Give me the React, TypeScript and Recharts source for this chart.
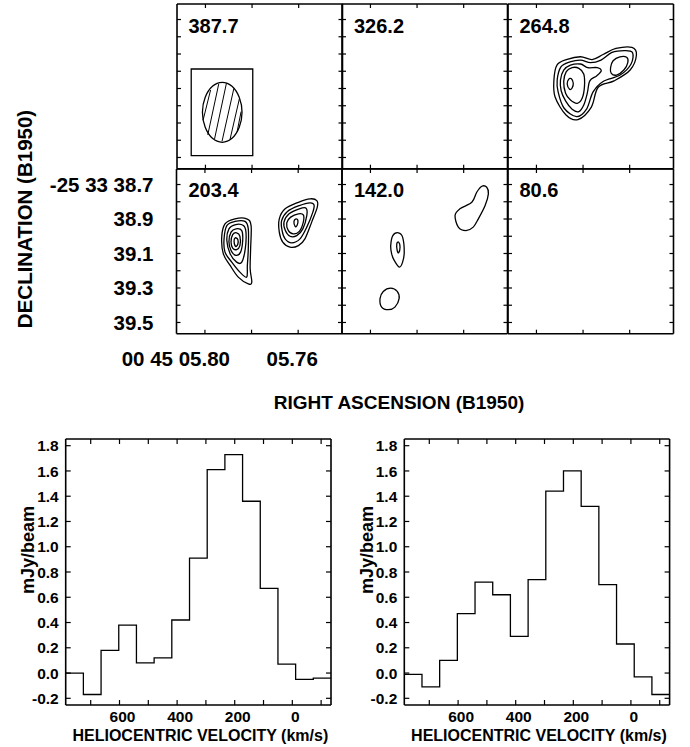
import { LineChart, Line, XAxis, YAxis, ReferenceArea, ReferenceLine } from "recharts";

type Pt = [number, number]; // [RA seconds, Dec arcsec]

// ---- channel maps ----
const CHANNELS = [387.7, 326.2, 264.8, 203.4, 142.0, 80.6];
const RA_TICKS = [5.8, 5.78, 5.76];
const RA_LABELS = [5.8, 5.76];
const DEC_TICKS = [38.7, 38.8, 38.9, 39.0, 39.1, 39.2, 39.3, 39.4, 39.5];
const DEC_LABELS = [38.7, 38.9, 39.1, 39.3, 39.5];
const RA_DOMAIN = [5.7412, 5.8122];
const DEC_DOMAIN = [38.61, 39.565];

// synthesized beam, drawn in the first channel
const BEAM_BOX = { ra: [5.7797, 5.8061], dec: [38.987, 39.489] };
const BEAM: Pt[] = [
  [5.8013, 39.238], [5.8001, 39.325], [5.797, 39.389], [5.7928, 39.412], [5.7886, 39.389], [5.7855, 39.325],
  [5.7843, 39.238], [5.7855, 39.151], [5.7886, 39.087], [5.7928, 39.064], [5.797, 39.087], [5.8001, 39.151],
];
const BEAM_HATCH: Pt[][] = [
  [[5.801, 39.283], [5.7978, 39.109]],
  [[5.799, 39.369], [5.7943, 39.074]],
  [[5.7961, 39.393], [5.791, 39.07]],
  [[5.7929, 39.407], [5.7878, 39.099]],
  [[5.7895, 39.398], [5.7854, 39.157]],
  [[5.7864, 39.35], [5.7847, 39.234]],
];

const CH_264_8: Pt[][] = [
  [[5.7925, 39.051], [5.7912, 38.964], [5.7868, 38.931], [5.7811, 38.916], [5.7761, 38.932], [5.7714, 38.903], [5.7659, 38.868], [5.759, 38.862],
   [5.7571, 38.906], [5.7598, 38.993], [5.7667, 39.056], [5.7735, 39.093], [5.7765, 39.209], [5.7822, 39.28], [5.7873, 39.254], [5.792, 39.149]],
  [[5.7911, 39.051], [5.7895, 38.975], [5.7856, 38.946], [5.7811, 38.935], [5.7768, 38.95], [5.7723, 38.935], [5.7676, 38.891], [5.7624, 38.88],
   [5.7588, 38.891], [5.7594, 38.958], [5.7641, 39.022], [5.7714, 39.059], [5.7757, 39.12], [5.7785, 39.219], [5.7828, 39.263], [5.7882, 39.213], [5.7907, 39.12]],
  [[5.7897, 39.051], [5.7883, 38.993], [5.7854, 38.964], [5.7811, 38.958], [5.778, 38.979], [5.7739, 38.979], [5.7722, 38.998], [5.7742, 39.027],
   [5.7771, 39.056], [5.7782, 39.128], [5.7797, 39.196], [5.7818, 39.234], [5.7847, 39.22], [5.7875, 39.172], [5.7894, 39.113]],
  [[5.7883, 39.06], [5.7872, 39.002], [5.7847, 38.979], [5.7818, 38.983], [5.7797, 39.016], [5.7794, 39.089], [5.7804, 39.157], [5.7825, 39.186], [5.7854, 39.167], [5.7875, 39.128]],
  [[5.7868, 39.074], [5.7862, 39.047], [5.785, 39.043], [5.7842, 39.07], [5.7847, 39.097], [5.7858, 39.105]],
  [[5.7682, 38.979], [5.7671, 38.939], [5.7642, 38.916], [5.7613, 38.919], [5.7608, 38.95], [5.7625, 38.993], [5.7656, 39.022], [5.7679, 39.012]],
];

const CH_203_4: Pt[][] = [
  [[5.7928, 39.005], [5.7914, 38.928], [5.7871, 38.899], [5.7821, 38.899], [5.7802, 38.938], [5.7804, 39.073], [5.7806, 39.189], [5.7799, 39.266],
   [5.7814, 39.276], [5.7857, 39.237], [5.7892, 39.169], [5.7921, 39.102]],
  [[5.7918, 39.015], [5.7906, 38.938], [5.7871, 38.914], [5.7828, 38.914], [5.7814, 38.957], [5.7814, 39.073], [5.7818, 39.169], [5.7821, 39.237],
   [5.785, 39.208], [5.7885, 39.15], [5.7914, 39.092]],
  [[5.7906, 39.025], [5.7897, 38.957], [5.7868, 38.932], [5.7835, 38.938], [5.7824, 38.976], [5.7827, 39.073], [5.7842, 39.15], [5.7864, 39.15], [5.7892, 39.102]],
  [[5.7897, 39.03], [5.7888, 38.976], [5.7867, 38.957], [5.7842, 38.967], [5.7838, 39.025], [5.7847, 39.092], [5.7867, 39.111], [5.7888, 39.083]],
  [[5.7888, 39.034], [5.7881, 38.991], [5.7864, 38.98], [5.785, 39.0], [5.785, 39.054], [5.7864, 39.077], [5.7881, 39.069]],
  [[5.7875, 39.03], [5.787, 39.009], [5.7859, 39.019], [5.7859, 39.046], [5.7868, 39.059]],
  [[5.7681, 38.899], [5.7656, 38.841], [5.7599, 38.803], [5.7549, 38.783], [5.752, 38.793], [5.7518, 38.831], [5.7542, 38.918], [5.7571, 39.015],
   [5.7599, 39.054], [5.7635, 39.063], [5.7666, 39.034], [5.7681, 38.976]],
  [[5.7671, 38.909], [5.7646, 38.856], [5.7595, 38.822], [5.7549, 38.806], [5.7532, 38.818], [5.7537, 38.86], [5.7563, 38.947], [5.7592, 39.015],
   [5.7628, 39.038], [5.7656, 39.015], [5.7669, 38.967]],
  [[5.7661, 38.918], [5.7639, 38.87], [5.7595, 38.841], [5.7566, 38.837], [5.7563, 38.88], [5.758, 38.957], [5.7606, 38.996], [5.7635, 39.0], [5.7655, 38.967]],
  [[5.7649, 38.922], [5.7632, 38.889], [5.7599, 38.87], [5.7578, 38.876], [5.7578, 38.918], [5.7595, 38.972], [5.7621, 38.986], [5.7642, 38.967]],
  [[5.7618, 38.914], [5.7609, 38.899], [5.7601, 38.909], [5.7605, 38.938], [5.7613, 38.943]],
];

const CH_142_0: Pt[][] = [
  [[5.7637, 38.88], [5.7616, 38.841], [5.7565, 38.803], [5.7544, 38.745], [5.7522, 38.71], [5.7501, 38.716], [5.7494, 38.754], [5.7508, 38.822],
   [5.7537, 38.899], [5.7559, 38.947], [5.759, 38.967], [5.7623, 38.947]],
  [[5.7913, 39.054], [5.7904, 38.996], [5.788, 38.98], [5.7862, 39.005], [5.7855, 39.092], [5.7862, 39.15], [5.7876, 39.179], [5.7898, 39.14], [5.7909, 39.102]],
  [[5.7887, 39.044], [5.7879, 39.034], [5.7873, 39.063], [5.7879, 39.096], [5.7885, 39.083]],
  [[5.7959, 39.362], [5.7945, 39.32], [5.7913, 39.301], [5.7885, 39.32], [5.7877, 39.362], [5.7895, 39.411], [5.7923, 39.426], [5.7952, 39.411]],
];

const CONTOURS: Pt[][][] = [[], [], CH_264_8, CH_203_4, CH_142_0, []];

// ---- spectra ----
const VELOCITY = [756.1, 694.7, 633.3, 571.9, 510.5, 449.1, 387.7, 326.2, 264.8, 203.4, 142.0, 80.6, 19.2, -42.2, -103.6];
const FLUX_A = [0.0, -0.17, 0.18, 0.38, 0.08, 0.12, 0.42, 0.91, 1.61, 1.73, 1.36, 0.67, 0.07, -0.05, -0.04];
const FLUX_B = [-0.01, -0.11, 0.1, 0.47, 0.72, 0.62, 0.29, 0.74, 1.44, 1.6, 1.32, 0.7, 0.23, -0.03, -0.17];
const V_TICKS = [700, 600, 500, 400, 300, 200, 100, 0, -100];
const V_LABELS = [600, 400, 200, 0];
const F_TICKS = [-0.2, 0, 0.2, 0.4, 0.6, 0.8, 1.0, 1.2, 1.4, 1.6, 1.8];
const V_DOMAIN = [-134.3, 786.8];
const F_DOMAIN = [-0.253, 1.853];

// layout
const GRID_X = 176.5;
const GRID_Y = 4;
const PW = 165.5;
const PH = 164.7;
const HIST_X = [65.7, 404.3];
const HIST_Y = 439;
const HW = 265.3;
const HH = 266;
const M = 3; // room round each plot for the frame stroke
const FONT = '"Liberation Sans", Arial, Helvetica, sans-serif';
const axisStroke = { stroke: "#000", strokeWidth: 1.6 };
// each framing axis is 1px thick, so the chart margin is one less than M
const MARGIN = { top: M - 1, right: M - 1, bottom: M - 1, left: M - 1 };

// closed Catmull-Rom curve so the contours come out as smooth loops
const closedSmooth = (ctx: any) => {
  let pts: number[][] = [];
  return {
    areaStart() {},
    areaEnd() {},
    lineStart() {
      pts = [];
    },
    point(x: number, y: number) {
      pts.push([x, y]);
    },
    lineEnd() {
      const n = pts.length;
      if (n < 3) return;
      ctx.moveTo(pts[0][0], pts[0][1]);
      for (let i = 0; i < n; i++) {
        const a = pts[(i + n - 1) % n], b = pts[i], c = pts[(i + 1) % n], d = pts[(i + 2) % n];
        ctx.bezierCurveTo(
          b[0] + (c[0] - a[0]) / 6, b[1] + (c[1] - a[1]) / 6,
          c[0] - (d[0] - b[0]) / 6, c[1] - (d[1] - b[1]) / 6,
          c[0], c[1]
        );
      }
      ctx.closePath();
    },
  };
};

const toPts = (c: Pt[]) => c.map(([ra, dec]) => ({ ra, dec }));

// a reference line at a tick value drawn only as two short inward stubs at the frame
const stubs = (len: number) => (p: any) => {
  const { x1, y1, x2, y2 } = p;
  const d = Math.hypot(x2 - x1, y2 - y1) || 1;
  const ux = ((x2 - x1) / d) * len;
  const uy = ((y2 - y1) / d) * len;
  return (
    <g>
      <line x1={x1} y1={y1} x2={x1 + ux} y2={y1 + uy} stroke="#000" strokeWidth={1.2} />
      <line x1={x2} y1={y2} x2={x2 - ux} y2={y2 - uy} stroke="#000" strokeWidth={1.2} />
    </g>
  );
};

function DecTick(p: any) {
  const v: number = p.payload.value;
  return (
    <text x={p.x} y={p.y} dy="0.36em" textAnchor="end" fontFamily={FONT} fontWeight={700} fontSize={20.5} fill="#000">
      {v === DEC_LABELS[0] ? `-25 33 ${v.toFixed(1)}` : v.toFixed(1)}
    </text>
  );
}

function RaTick(p: any) {
  const v: number = p.payload.value;
  const s = v.toFixed(2).padStart(5, "0");
  const first = v === RA_LABELS[0];
  return (
    <text x={first ? p.x + 25 : p.x - 6} y={p.y} dy="0.72em" textAnchor={first ? "end" : "middle"}
      fontFamily={FONT} fontWeight={700} fontSize={20.5} fill="#000">
      {first ? `00 45 ${s}` : s}
    </text>
  );
}

function VelTick(p: any) {
  return (
    <text x={p.x + 3} y={p.y} dy="0.72em" textAnchor="middle" fontFamily={FONT} fontWeight={700} fontSize={15.5} fill="#000">
      {p.payload.value}
    </text>
  );
}

function FluxTick(p: any) {
  return (
    <text x={p.x} y={p.y} dy="0.36em" textAnchor="end" fontFamily={FONT} fontWeight={700} fontSize={15.5} fill="#000">
      {p.payload.value.toFixed(1)}
    </text>
  );
}

// four 1px framing axes plus inward tick stubs on every side
function frame(ax: any, ay: any, xt: number[], yt: number[], len: number) {
  const common = { tick: false, tickLine: false, axisLine: axisStroke };
  return [
    <XAxis key="b" xAxisId="b" {...ax} {...common} height={1} orientation="bottom" />,
    <XAxis key="t" xAxisId="t" {...ax} {...common} height={1} orientation="top" />,
    <YAxis key="l" yAxisId="l" {...ay} {...common} width={1} orientation="left" />,
    <YAxis key="r" yAxisId="r" {...ay} {...common} width={1} orientation="right" />,
    ...xt.map((t) => <ReferenceLine key={`x${t}`} xAxisId="b" yAxisId="l" x={t} shape={stubs(len)} />),
    ...yt.map((t) => <ReferenceLine key={`y${t}`} xAxisId="b" yAxisId="l" y={t} shape={stubs(len)} />),
  ];
}

function ChannelPanel({ index }: { index: number }) {
  const col = index % 3;
  const row = Math.floor(index / 3);
  const labelled = col === 0 && row === 1;
  const yw = labelled ? GRID_X : 0;
  const xh = labelled ? 45 : 0;
  const x0 = GRID_X + col * PW;
  const y0 = GRID_Y + row * PH;
  const ax = { type: "number" as const, domain: RA_DOMAIN, reversed: true, allowDataOverflow: true, dataKey: "ra", interval: 0 as const };
  const ay = { type: "number" as const, domain: DEC_DOMAIN, reversed: true, allowDataOverflow: true, dataKey: "dec", interval: 0 as const };
  return (
    <div style={{ position: "absolute", left: x0 - yw - M, top: y0 - M }}>
      <LineChart width={PW + yw + 2 * M} height={PH + xh + 2 * M} margin={MARGIN}>
        {frame(ax, ay, RA_TICKS, DEC_TICKS, 4)}
        {labelled && (
          <XAxis xAxisId="lab" {...ax} ticks={RA_LABELS} orientation="bottom" height={xh} tickSize={0} tickMargin={17}
            axisLine={false} tickLine={false} tick={<RaTick />} />
        )}
        {labelled && (
          <YAxis yAxisId="lab" {...ay} ticks={DEC_LABELS} orientation="left" width={yw} tickSize={0} tickMargin={22}
            axisLine={false} tickLine={false} tick={<DecTick />} />
        )}
        {index === 0 && (
          <ReferenceArea xAxisId="b" yAxisId="l" x1={BEAM_BOX.ra[0]} x2={BEAM_BOX.ra[1]} y1={BEAM_BOX.dec[0]} y2={BEAM_BOX.dec[1]}
            fill="none" stroke="#000" strokeWidth={1.3} />
        )}
        {index === 0 && (
          <Line xAxisId="b" yAxisId="l" data={toPts(BEAM)} dataKey="dec" type={closedSmooth as any} stroke="#000" strokeWidth={1.3}
            dot={false} activeDot={false} isAnimationActive={false} />
        )}
        {index === 0 &&
          BEAM_HATCH.map((h, i) => (
            <Line key={`h${i}`} xAxisId="b" yAxisId="l" data={toPts(h)} dataKey="dec" type="linear" stroke="#000" strokeWidth={1}
              dot={false} activeDot={false} isAnimationActive={false} />
          ))}
        {CONTOURS[index].map((c, i) => (
          <Line key={i} xAxisId="b" yAxisId="l" data={toPts(c)} dataKey="dec" type={closedSmooth as any} stroke="#000" strokeWidth={1.3}
            dot={false} activeDot={false} isAnimationActive={false} />
        ))}
      </LineChart>
    </div>
  );
}

function Spectrum({ left, flux }: { left: number; flux: number[] }) {
  const half = (VELOCITY[0] - VELOCITY[1]) / 2;
  const last = VELOCITY.length - 1;
  // bin edges, so the step line covers every channel fully
  const data = [
    ...VELOCITY.map((v, i) => ({ v: v + half, f: flux[i] })),
    { v: VELOCITY[last] - half, f: flux[last] },
  ];
  const yw = left;
  const xh = 30;
  const ax = { type: "number" as const, domain: V_DOMAIN, reversed: true, allowDataOverflow: true, dataKey: "v", interval: 0 as const };
  const ay = { type: "number" as const, domain: F_DOMAIN, allowDataOverflow: true, interval: 0 as const };
  return (
    <div style={{ position: "absolute", left: left - yw - M, top: HIST_Y - M }}>
      <LineChart width={HW + yw + 2 * M} height={HH + xh + 2 * M} margin={MARGIN}>
        {frame(ax, ay, V_TICKS, F_TICKS, 5)}
        <XAxis xAxisId="lab" {...ax} ticks={V_LABELS} orientation="bottom" height={xh} tickSize={0} tickMargin={5}
          axisLine={false} tickLine={false} tick={<VelTick />} />
        <YAxis yAxisId="lab" {...ay} ticks={F_TICKS} orientation="left" width={yw} tickSize={0} tickMargin={6}
          axisLine={false} tickLine={false} tick={<FluxTick />} />
        <Line xAxisId="b" yAxisId="l" data={data} dataKey="f" type="stepAfter" stroke="#000" strokeWidth={1.3}
          dot={false} activeDot={false} isAnimationActive={false} />
      </LineChart>
    </div>
  );
}

export default function App() {
  return (
    <div style={{ position: "absolute", left: 0, top: 0, width: 690, height: 747, background: "#fff" }}>
      {CHANNELS.map((_, i) => (
        <ChannelPanel key={i} index={i} />
      ))}
      <Spectrum left={HIST_X[0]} flux={FLUX_A} />
      <Spectrum left={HIST_X[1]} flux={FLUX_B} />
      <svg width={690} height={747} style={{ position: "absolute", left: 0, top: 0, pointerEvents: "none" }}
        fontFamily={FONT} fontWeight={700} fill="#000">
        {CHANNELS.map((v, i) => (
          <text key={i} x={GRID_X + (i % 3) * PW + 12} y={GRID_Y + Math.floor(i / 3) * PH + 28.5} fontSize={20}>
            {v.toFixed(1)}
          </text>
        ))}
        <text transform="translate(24.5,219) rotate(-90)" textAnchor="middle" dy="0.36em" fontSize={20.5}>
          DECLINATION (B1950)
        </text>
        <text x={399} y={409} textAnchor="middle" fontSize={19}>
          RIGHT ASCENSION (B1950)
        </text>
        {HIST_X.map((x, i) => (
          <g key={i}>
            <text transform={`translate(${x - 38},550) rotate(-90)`} textAnchor="middle" dy="0.36em" fontSize={18}>
              mJy/beam
            </text>
            <text x={x + HW / 2 + 2} y={741} textAnchor="middle" fontSize={16}>
              HELIOCENTRIC VELOCITY (km/s)
            </text>
          </g>
        ))}
      </svg>
    </div>
  );
}
